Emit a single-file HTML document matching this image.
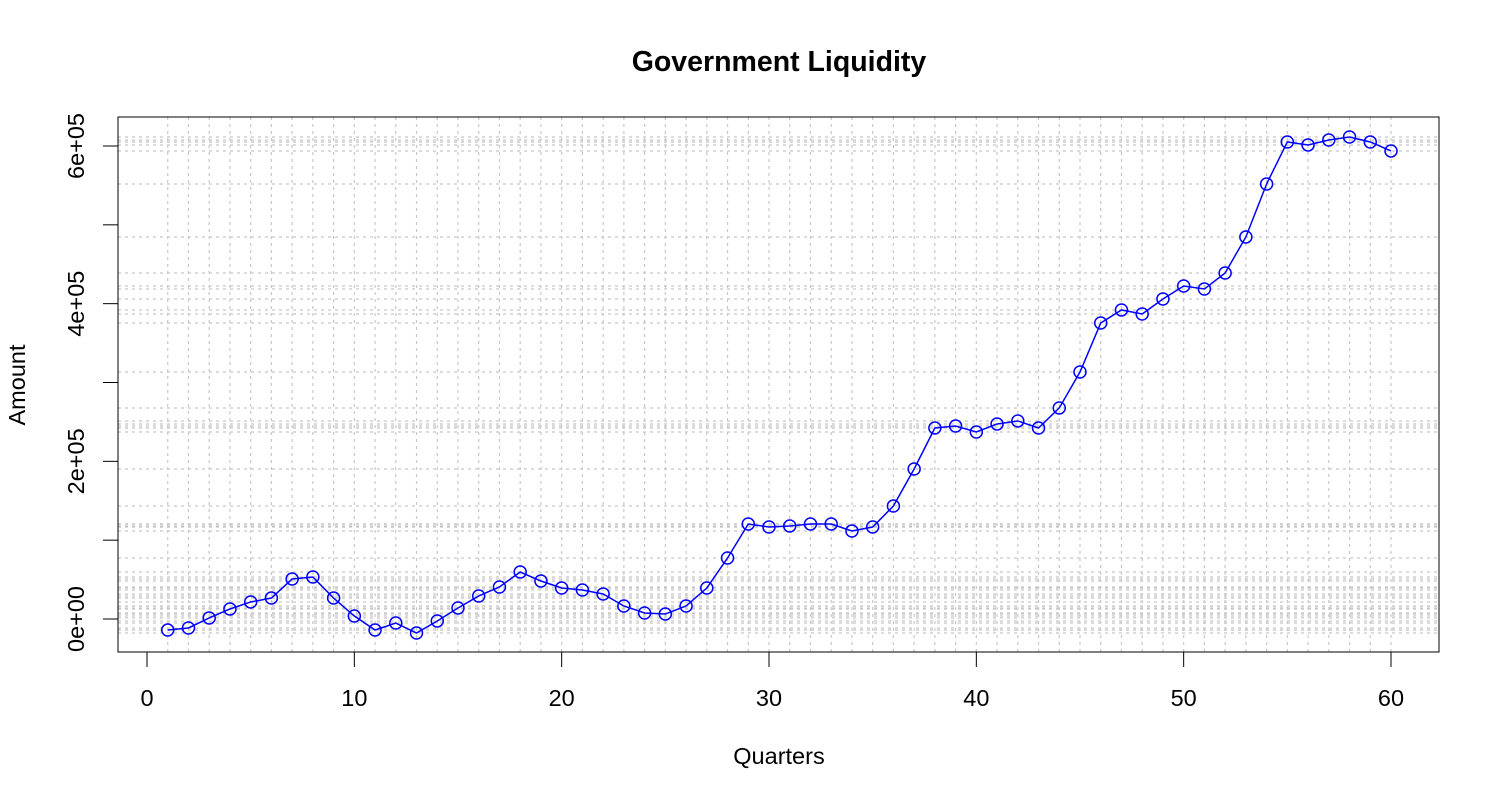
<!DOCTYPE html>
<html><head><meta charset="utf-8"><style>
body{margin:0;background:#fff;}
svg text{font-family:"Liberation Sans",Arial,sans-serif;}
</style></head><body>
<svg id="chart" width="1500" height="800" xmlns="http://www.w3.org/2000/svg">
<rect width="1500" height="800" fill="#fff"/>
<text x="779" y="71" text-anchor="middle" font-size="28.5" font-weight="bold">Government Liquidity</text>
<text x="779" y="764" text-anchor="middle" font-size="23.5">Quarters</text>
<text x="0" y="0" transform="translate(25,385) rotate(-90)" text-anchor="middle" font-size="23.5">Amount</text>
<g id="grid"></g>
<g id="axes"></g>
<polyline id="line" fill="none" stroke="#0000ff" stroke-width="1.5"/>
<g id="points"></g>
<rect x="118" y="117" width="1321" height="535" fill="none" stroke="#000" stroke-width="1"/>
</svg>
<script>
const quarters = Array.from({length:60},(_,i)=>i+1);
const amounts = [-14000,-11400,1300,12700,21600,26600,50700,53300,26600,3800,
-14000,-5100,-17800,-2500,14000,29200,40600,59600,48200,39300,
36800,31700,16500,7600,6300,16500,39300,77400,120500,116700,
118000,120500,120500,111600,116700,143300,190300,242300,244800,237200,
247400,251200,242300,267700,313300,375500,392000,386900,405900,422400,
418600,438900,484600,551800,605100,601300,607600,611400,605100,593700];
const xTicks = [0,10,20,30,40,50,60];
const yTicks = [0,100000,200000,300000,400000,500000,600000];
const yTickLabels = ["0e+00","","2e+05","","4e+05","","6e+05"];

const NS="http://www.w3.org/2000/svg";
const sx = v => 147 + v*(1391-147)/60;
const sy = v => 619 - v*(619-146)/600000;
function mk(tag, attrs, parent){const e=document.createElementNS(NS,tag);for(const k in attrs)e.setAttribute(k,attrs[k]);parent.appendChild(e);return e;}
const grid=document.getElementById('grid'), axes=document.getElementById('axes'), pts=document.getElementById('points');
quarters.forEach(q=>{
  const l=mk('line',{x1:sx(q),x2:sx(q),y1:117,y2:652,stroke:'#c8c8c8','stroke-width':1.2,'stroke-dasharray':'3,4'},grid);
  
  
});
amounts.forEach(a=>{
  const l=mk('line',{x1:118,x2:1439,y1:sy(a),y2:sy(a),stroke:'#c8c8c8','stroke-width':1.2,'stroke-dasharray':'3,4'},grid);
  
  
});
mk('line',{x1:sx(0),x2:sx(60),y1:652,y2:652,stroke:'#000'},axes);
xTicks.forEach(t=>{
  mk('line',{x1:sx(t),x2:sx(t),y1:652,y2:667,stroke:'#000'},axes);
  const tx=mk('text',{x:sx(t),y:706,'text-anchor':'middle','font-size':23.5},axes);
  tx.textContent=t;
  
  
});
mk('line',{x1:118,x2:118,y1:sy(0),y2:sy(600000),stroke:'#000'},axes);
yTicks.forEach((t,i)=>{
  mk('line',{x1:103,x2:118,y1:sy(t),y2:sy(t),stroke:'#000'},axes);
  if(yTickLabels[i]){
    const tx=mk('text',{x:0,y:0,transform:`translate(84,${sy(t)}) rotate(-90)`,'text-anchor':'middle','font-size':23.5},axes);
    tx.textContent=yTickLabels[i];
    
    
  }
});
document.getElementById('line').setAttribute('points',quarters.map((q,i)=>sx(q)+','+sy(amounts[i])).join(' '));
quarters.forEach((q,i)=>{
  const c=mk('circle',{cx:sx(q),cy:sy(amounts[i]),r:6,fill:'none',stroke:'#0000ff','stroke-width':1.5},pts);
  
  
});
</script>
</body></html>
